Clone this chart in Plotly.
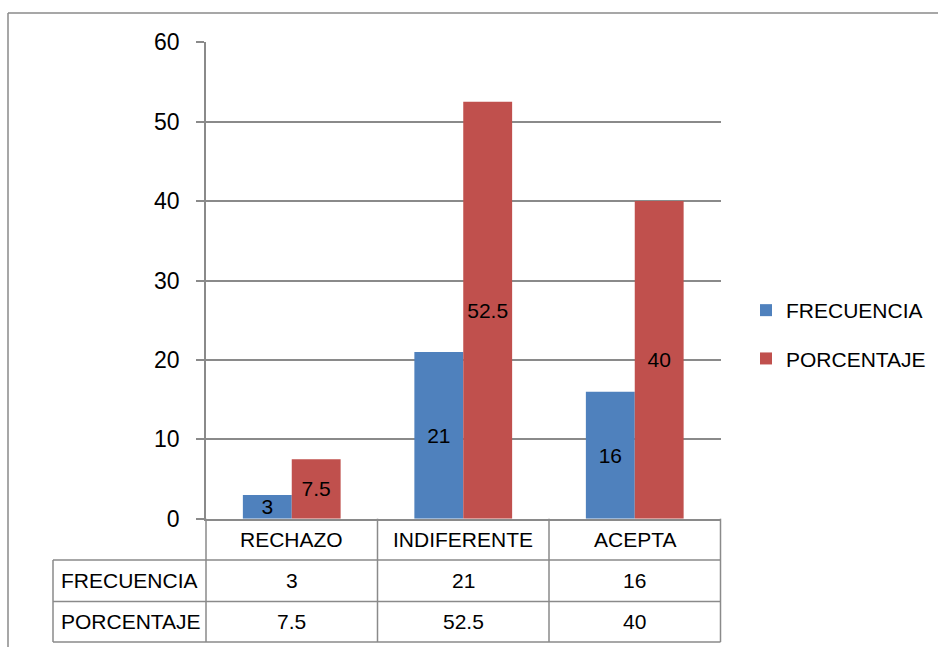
import plotly.graph_objects as go

# Survey results: frequency and percentage per response category
categorias = ["RECHAZO", "INDIFERENTE", "ACEPTA"]
frecuencia = [3, 21, 16]
porcentaje = [7.5, 52.5, 40]
series_nombres = ["FRECUENCIA", "PORCENTAJE"]
y_ticks = [0, 10, 20, 30, 40, 50, 60]

W, H = 938, 647
AZUL = "#4F81BD"
ROJO = "#C0504D"
GRIS = "#8a8a8a"
FUENTE = "Liberation Sans, Arial, sans-serif"


def px(x):
    return x / W


def py(y):
    return 1 - y / H


# plot area in pixels
X0, X1 = 206, 720.5
Y_TOP, Y_ZERO = 42.3, 518.7
ROWS = [Y_ZERO, 560, 601.5, 642]
LABEL_X = 53

fig = go.Figure()
for nombre, valores, color in [
    (series_nombres[0], frecuencia, AZUL),
    (series_nombres[1], porcentaje, ROJO),
]:
    fig.add_trace(go.Bar(
        x=categorias, y=valores, name=nombre, legendgroup=nombre,
        marker=dict(color=color, line=dict(width=0)),
        text=[f"{v:g}" for v in valores],
        textposition="inside", insidetextanchor="middle",
        textangle=0, constraintext="none",
        textfont=dict(family=FUENTE, size=21, color="black"),
    ))

shapes = []
line = dict(color=GRIS, width=1.5)
# outer frame (left and top edges)
shapes.append(dict(type="line", xref="paper", yref="paper",
                   x0=px(8), x1=px(8), y0=py(13), y1=0, line=line))
shapes.append(dict(type="line", xref="paper", yref="paper",
                   x0=px(8), x1=1, y0=py(13), y1=py(13), line=line))
# data table grid under the chart
for yy in ROWS[1:]:
    shapes.append(dict(type="line", xref="paper", yref="paper",
                       x0=px(LABEL_X), x1=px(X1), y0=py(yy), y1=py(yy), line=line))
shapes.append(dict(type="line", xref="paper", yref="paper",
                   x0=px(LABEL_X), x1=px(LABEL_X), y0=py(ROWS[1]), y1=py(ROWS[3]), line=line))
n = len(categorias)
for k in range(n + 1):
    xx = X0 + (X1 - X0) * k / n
    shapes.append(dict(type="line", xref="paper", yref="paper",
                       x0=px(xx), x1=px(xx), y0=py(Y_ZERO), y1=py(ROWS[3]), line=line))

annotations = []
tf = dict(family=FUENTE, size=21, color="black")
rows_mid = [(ROWS[i] + ROWS[i + 1]) / 2 for i in range(3)]
for i, cat in enumerate(categorias):
    for r, txt in enumerate([cat, f"{frecuencia[i]:g}", f"{porcentaje[i]:g}"]):
        annotations.append(dict(x=cat, xref="x", xanchor="center",
                                y=py(rows_mid[r]), yref="paper", yanchor="middle",
                                text=txt, showarrow=False, font=tf))
for j, nombre in enumerate(series_nombres):
    annotations.append(dict(x=px(59), xref="paper", xanchor="left",
                            y=py(rows_mid[j + 1]), yref="paper", yanchor="middle",
                            text=nombre, showarrow=False, font=tf))

fig.update_layout(
    width=W, height=H, autosize=False,
    margin=dict(l=0, r=0, t=0, b=0, pad=0, autoexpand=False),
    paper_bgcolor="white", plot_bgcolor="white",
    font=dict(family=FUENTE, size=21, color="black"),
    barmode="group", bargap=0.43, bargroupgap=0,
    showlegend=True,
    legend=dict(x=px(746), y=py(290), xanchor="left", yanchor="top",
                font=dict(family=FUENTE, size=21, color="black"),
                tracegroupgap=18, bgcolor="rgba(0,0,0,0)"),
    xaxis=dict(domain=[px(X0), px(X1)], type="category", range=[-0.5, 2.5],
               showticklabels=False, ticks="", showgrid=False, automargin=False,
               showline=True, linecolor=GRIS, linewidth=1.5, zeroline=False),
    yaxis=dict(domain=[py(Y_ZERO), py(Y_TOP)], range=[0, 60], tickvals=y_ticks,
               showgrid=True, gridcolor=GRIS, gridwidth=1.5, automargin=False,
               showline=True, linecolor=GRIS, linewidth=1.5,
               ticks="outside", ticklen=8, tickcolor=GRIS, tickwidth=1.5,
               tickfont=dict(family=FUENTE, size=23, color="black"),
               ticklabelstandoff=12, zeroline=False),
    shapes=shapes, annotations=annotations,
)

fig.write_html("out.html")
